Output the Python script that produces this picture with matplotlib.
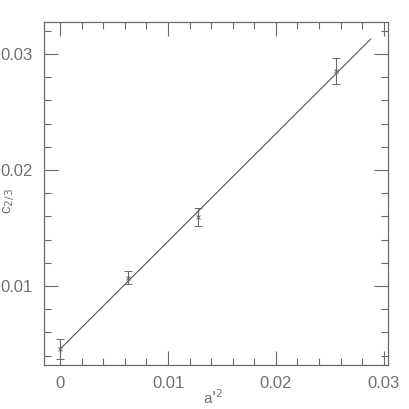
import numpy as np
from matplotlib import pyplot as plt
from matplotlib.ticker import MultipleLocator

# data
a2 = [0.0, 0.0063, 0.0128, 0.0256]
c23 = [0.00457, 0.0107, 0.01595, 0.02853]
c23_err = [0.00086, 0.00056, 0.00078, 0.0011]

# fitted straight line
fit_x = [0.0, 0.0288]
fit_slope = 0.928
fit_icept = 0.00457

grey = '#6a6a6a'
txt = '#707070'
plt.rcParams['font.family'] = ['Liberation Sans', 'DejaVu Sans']

fig = plt.figure(figsize=(4.09, 4.09), dpi=100)
ax = fig.add_axes([0.1076, 0.1076, 0.841, 0.8385])

ax.errorbar(a2, c23, yerr=c23_err, fmt='x', ms=3, mew=0.7, color=grey,
            ecolor=grey, elinewidth=0.8, capsize=3, capthick=0.8)
line_y = [fit_icept + fit_slope * x for x in fit_x]
ax.plot(fit_x, line_y, color='#555555', lw=0.8)

ax.set_xlim(-0.0015, 0.0304)
ax.set_ylim(0.00319, 0.03276)
ax.xaxis.set_major_locator(MultipleLocator(0.01))
ax.xaxis.set_minor_locator(MultipleLocator(0.002))
ax.yaxis.set_major_locator(MultipleLocator(0.01))
ax.yaxis.set_minor_locator(MultipleLocator(0.002))
ax.xaxis.set_major_formatter(plt.FuncFormatter(lambda v, p: '0' if abs(v) < 1e-9 else f'{v:g}'))
ax.yaxis.set_major_formatter(plt.FuncFormatter(lambda v, p: f'{v:g}'))

ax.tick_params(which='both', direction='in', top=True, right=True, color=grey,
               labelcolor=txt, labelsize=12, pad=8)
ax.tick_params(which='major', length=10, width=0.8)
ax.tick_params(which='minor', length=5, width=0.8)
for s in ax.spines.values():
    s.set_color(grey)
    s.set_linewidth(0.9)

ax.set_xlabel("a$'^2$", fontsize=11, color=txt, va='center')
ax.set_ylabel("c$_{2/3}$", fontsize=11, color=txt, va='center')
ax.xaxis.set_label_coords(0.491, -0.095)
ax.yaxis.set_label_coords(-0.103, 0.478)

fig.savefig('out.png', dpi=100)
